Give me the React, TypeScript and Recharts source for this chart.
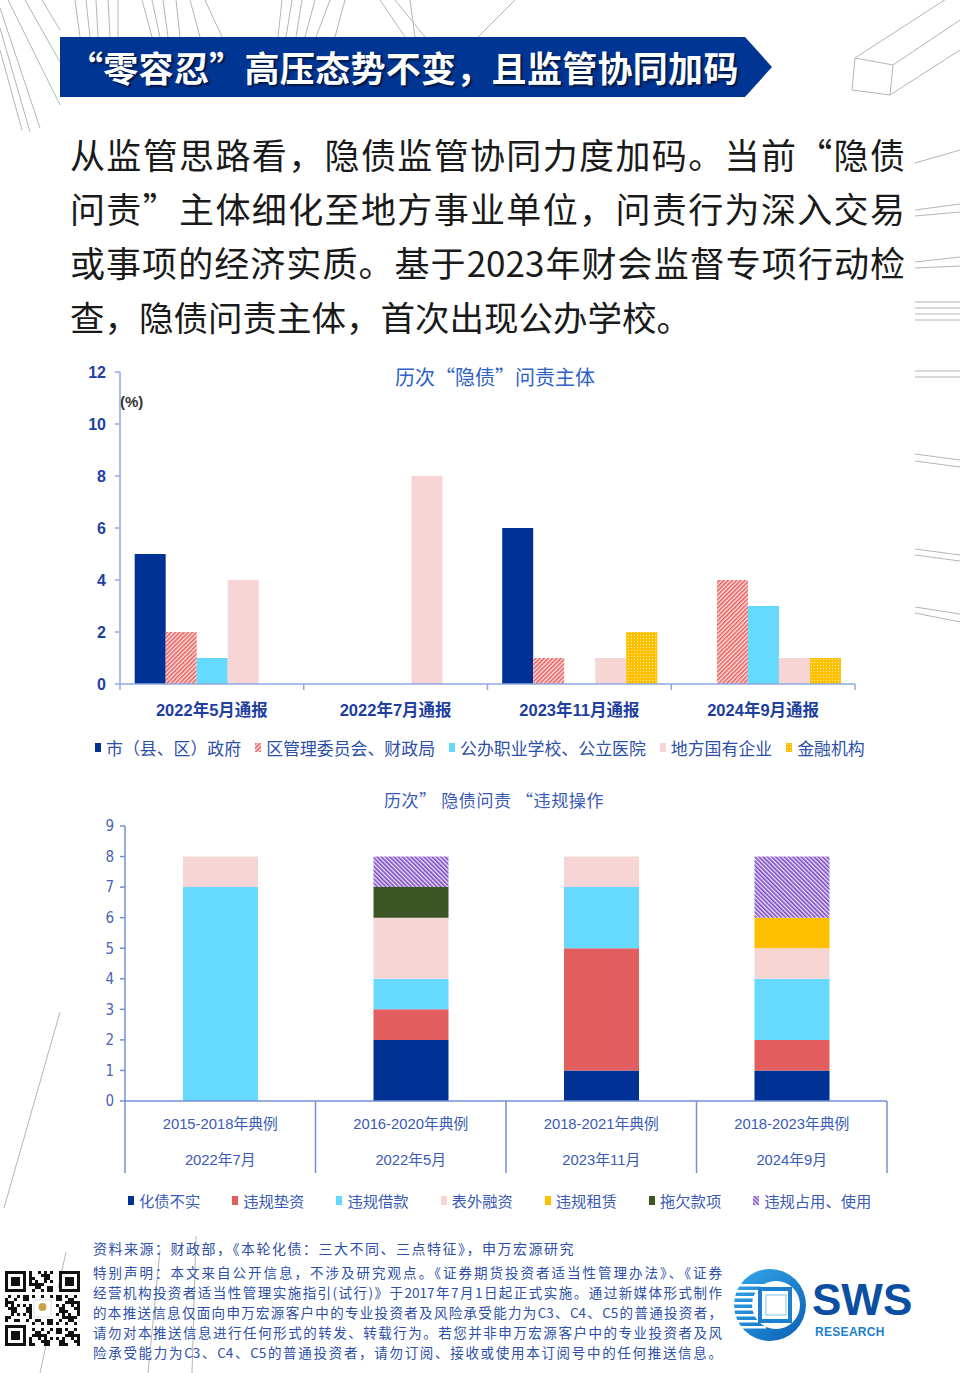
import React from 'react'
import { BarChart, Bar, XAxis, YAxis } from 'recharts'

// chart 1: 历次"隐债"问责主体
const reportCategories = ['2022年5月通报', '2022年7月通报', '2023年11月通报', '2024年9月通报']
const subjectNames = ['市（县、区）政府', '区管理委员会、财政局', '公办职业学校、公立医院', '地方国有企业', '金融机构']
const cityGov = [5, 0, 6, 0]
const districtCommittee = [2, 0, 1, 4]
const publicSchools = [1, 0, 0, 3]
const localSoe = [4, 8, 1, 1]
const financialInst = [0, 0, 2, 1]
const subjectTicks = [0, 2, 4, 6, 8, 10, 12]

// chart 2: 历次隐债问责"违规操作"
const caseRanges = ['2015-2018年典例', '2016-2020年典例', '2018-2021年典例', '2018-2023年典例']
const caseDates = ['2022年7月', '2022年5月', '2023年11月', '2024年9月']
const opNames = ['化债不实', '违规垫资', '违规借款', '表外融资', '违规租赁', '拖欠款项', '违规占用、使用']
const falseResolution = [0, 2, 1, 1]
const illegalAdvance = [0, 1, 4, 1]
const illegalBorrowing = [7, 1, 2, 2]
const offBalance = [1, 2, 1, 1]
const illegalLeasing = [0, 0, 0, 1]
const arrears = [0, 1, 0, 0]
const misappropriation = [0, 1, 0, 2]
const opTicks = [0, 1, 2, 3, 4, 5, 6, 7, 8, 9]

const NAVY = '#003194'
const RED = '#e35f5f'
const CYAN = '#66d9ff'
const PINK = '#f8d5d5'
const GOLD = '#ffc000'
const GREEN = '#3b5524'
const AXIS1 = '#8fa8e0'
const AXIS2 = '#7090d8'

const subjectFills = [NAVY, 'url(#redHatch)', CYAN, PINK, 'url(#goldDots)']
const subjectSeries = [cityGov, districtCommittee, publicSchools, localSoe, financialInst]
const opFills = [NAVY, RED, CYAN, PINK, GOLD, GREEN, 'url(#purpleHatch)']
const opSeries = [falseResolution, illegalAdvance, illegalBorrowing, offBalance, illegalLeasing, arrears, misappropriation]

const subjectData = reportCategories.map((name, i) => {
  const row: any = { name }
  subjectSeries.forEach((s, k) => (row['s' + k] = s[i]))
  return row
})
const opData = caseRanges.map((name, i) => {
  const row: any = { name, date: caseDates[i] }
  opSeries.forEach((s, k) => (row['o' + k] = s[i]))
  return row
})

const SANS = 'Arial, "Liberation Sans", "Noto Sans CJK SC", sans-serif'
const NARROW = '"Liberation Sans Narrow", "DejaVu Sans Condensed", "Noto Sans CJK SC", sans-serif'

const PLOT1_W = 960 - 120 - 105
const BAND1 = PLOT1_W / reportCategories.length
const PLOT2_W = 960 - 125 - 73
const BAND2 = PLOT2_W / caseRanges.length

function SubjectTick(props: any) {
  const { x, y, payload, index } = props
  const last = index === reportCategories.length - 1
  return (
    <g>
      <line x1={x - BAND1 / 2} y1={y} x2={x - BAND1 / 2} y2={y + 6} stroke={AXIS1} strokeWidth={1.5} />
      {last && <line x1={x + BAND1 / 2} y1={y} x2={x + BAND1 / 2} y2={y + 6} stroke={AXIS1} strokeWidth={1.5} />}
      <text x={x} y={y + 32} textAnchor="middle" fill="#1f3f9f" fontSize={16.5} fontWeight={700} fontFamily={SANS}>
        {payload.value}
      </text>
    </g>
  )
}

function CaseTick(props: any) {
  const { x, y, payload, index } = props
  const last = index === caseRanges.length - 1
  return (
    <g>
      <line x1={x - BAND2 / 2} y1={y} x2={x - BAND2 / 2} y2={y + 72} stroke={AXIS2} strokeWidth={1.5} />
      {last && <line x1={x + BAND2 / 2} y1={y} x2={x + BAND2 / 2} y2={y + 72} stroke={AXIS2} strokeWidth={1.5} />}
      <text x={x} y={y + 28} textAnchor="middle" fill="#3a5bb5" fontSize={14.8} fontFamily={SANS}>
        {payload.value}
      </text>
      <text x={x} y={y + 64} textAnchor="middle" fill="#3a5bb5" fontSize={14.8} fontFamily={SANS}>
        {caseDates[index]}
      </text>
    </g>
  )
}

function QrCode() {
  const cells = []
  const n = 25
  for (let r = 0; r < n; r++) {
    for (let c = 0; c < n; c++) {
      const inF = (rr: number, cc: number) => rr >= 0 && rr < 7 && cc >= 0 && cc < 7
      let dark = false
      const fr = r < 8 ? r : r - 18
      const fc = c < 8 ? c : c - 18
      const finder = (r < 8 && c < 8) || (r < 8 && c >= 17) || (r >= 17 && c < 8)
      if (finder) {
        if (inF(fr, fc)) dark = fr === 0 || fr === 6 || fc === 0 || fc === 6 || (fr >= 2 && fr <= 4 && fc >= 2 && fc <= 4)
      } else {
        dark = (r * 31 + c * 17 + r * c * 7) % 11 < 5
      }
      if (r >= 9 && r <= 15 && c >= 9 && c <= 15) dark = false
      if (dark) cells.push(<rect key={r + '-' + c} x={c * 3} y={r * 3} width={3} height={3} fill="#111" />)
    }
  }
  return (
    <svg width={75} height={75} style={{ position: 'absolute', left: 5, top: 1271 }}>
      {cells}
      <rect x={29} y={29} width={17} height={17} fill="#fff" stroke="#ddd" />
      <circle cx={37.5} cy={36} r={4} fill="#c9a24a" />
    </svg>
  )
}

function Legend({ names, fills, left, top, gap, fontSize, color, family }: any) {
  return (
    <div style={{ position: 'absolute', left, top, display: 'flex', gap, alignItems: 'center', fontSize, color, fontFamily: family, whiteSpace: 'nowrap' }}>
      {names.map((n: string, i: number) => (
        <div key={n} style={{ display: 'flex', alignItems: 'center' }}>
          <svg width={6} height={9} style={{ marginRight: 5 }}>
            <rect width={6} height={9} fill={fills[i]} />
          </svg>
          {n}
        </div>
      ))}
    </div>
  )
}

const bgLines: [number, number, number, number][] = [
  [0, 8, 40, 128], [0, 28, 30, 132], [0, 50, 22, 130], [8, 0, 60, 105], [25, 0, 60, 62], [42, 0, 60, 30],
  [75, 0, 80, 37], [86, 0, 90, 37], [96, 0, 98, 37], [108, 0, 110, 37], [118, 0, 118, 37],
  [142, 0, 152, 37], [152, 0, 160, 37], [163, 0, 168, 37], [176, 0, 180, 37], [190, 0, 200, 37], [205, 0, 222, 37],
  [282, 0, 278, 37], [292, 0, 286, 37], [302, 0, 296, 37], [315, 0, 305, 37], [330, 0, 316, 37], [345, 0, 335, 37],
  [380, 0, 405, 37], [395, 0, 425, 37], [410, 0, 415, 37], [515, 0, 478, 37],
  [855, 58, 960, -10], [893, 65, 960, 20], [890, 95, 960, 50], [852, 90, 855, 58], [855, 58, 893, 65], [893, 65, 890, 95], [890, 95, 852, 90],
  [915, 163, 960, 150], [915, 210, 960, 204], [915, 216, 960, 212], [915, 262, 960, 257], [915, 268, 960, 266],
  [915, 302, 960, 302], [915, 308, 960, 308], [915, 314, 960, 314], [915, 320, 960, 320],
  [915, 371, 960, 371], [915, 377, 960, 377], [915, 454, 960, 460], [915, 461, 960, 467],
  [915, 549, 960, 555], [915, 555, 960, 561], [915, 607, 960, 614], [915, 613, 960, 622],
  [60, 1012, 4, 1208], [66, 1252, 58, 1288], [46, 1345, 40, 1373], [160, 1250, 148, 1373], [196, 1236, 192, 1373],
]

export default function App() {
  const para = [
    '从监管思路看，隐债监管协同力度加码。当前“隐债',
    '问责”主体细化至地方事业单位，问责行为深入交易',
    '或事项的经济实质。基于2023年财会监督专项行动检',
    '查，隐债问责主体，首次出现公办学校。',
  ]
  const disclaimer = [
    '特别声明：本文来自公开信息，不涉及研究观点。《证券期货投资者适当性管理办法》、《证券',
    '经营机构投资者适当性管理实施指引(试行)》于2017年7月1日起正式实施。通过新媒体形式制作',
    '的本推送信息仅面向申万宏源客户中的专业投资者及风险承受能力为C3、C4、C5的普通投资者，',
    '请勿对本推送信息进行任何形式的转发、转载行为。若您并非申万宏源客户中的专业投资者及风',
    '险承受能力为C3、C4、C5的普通投资者，请勿订阅、接收或使用本订阅号中的任何推送信息。',
  ]
  return (
    <div style={{ position: 'absolute', left: 0, top: 0, width: 960, height: 1373, background: '#fff', overflow: 'hidden', fontFamily: '"Noto Sans CJK SC", sans-serif' }}>
      <svg width={0} height={0} style={{ position: 'absolute' }}>
        <defs>
          <pattern id="redHatch" width="3" height="3" patternUnits="userSpaceOnUse" patternTransform="rotate(45)">
            <rect width="3" height="3" fill="#fde4e4" />
            <rect width="1.6" height="3" fill="#e8605f" />
          </pattern>
          <pattern id="goldDots" width="3" height="3" patternUnits="userSpaceOnUse">
            <rect width="3" height="3" fill={GOLD} />
            <rect x="1" y="1" width="1" height="1" fill="#fff0b0" />
          </pattern>
          <pattern id="purpleHatch" width="3" height="3" patternUnits="userSpaceOnUse" patternTransform="rotate(-45)">
            <rect width="3" height="3" fill="#ece2f8" />
            <rect width="1.6" height="3" fill="#7a48c0" />
          </pattern>
          <linearGradient id="globe" x1="0" y1="0" x2="1" y2="1">
            <stop offset="0" stopColor="#35a9ec" />
            <stop offset="1" stopColor="#0a5fb4" />
          </linearGradient>
        </defs>
      </svg>

      {/* background lines */}
      <svg width={960} height={1373} style={{ position: 'absolute', left: 0, top: 0 }}>
        {bgLines.map((l, i) => (
          <line key={i} x1={l[0]} y1={l[1]} x2={l[2]} y2={l[3]} stroke="#b5b5b5" strokeWidth={1} />
        ))}
      </svg>

      {/* banner */}
      <svg width={960} height={110} style={{ position: 'absolute', left: 0, top: 0 }}>
        <polygon points="60,37 745,37 772,67 745,97 60,97" fill="#003594" />
      </svg>
      <div style={{ position: 'absolute', left: 68, top: 37, height: 60, lineHeight: '60px', color: '#fff', fontSize: 35, fontWeight: 700, letterSpacing: 0.3, textShadow: '2px 2px 2px rgba(0,0,0,0.55)', whiteSpace: 'nowrap' }}>
        “零容忍”高压态势不变，且监管协同加码
      </div>

      {/* paragraph */}
      <div style={{ position: 'absolute', left: 70, top: 127, width: 835, fontSize: 35, lineHeight: '54px', color: '#1a1a1a' }}>
        {para.map((p, i) => (
          <div key={i} style={{ textAlignLast: i < para.length - 1 ? 'justify' : 'left', whiteSpace: 'nowrap', fontSize: i < para.length - 1 ? 35 : 34.5 }}>
            {p}
          </div>
        ))}
      </div>

      {/* chart 1 */}
      <div style={{ position: 'absolute', left: 395, top: 363, fontSize: 20, color: '#2e62c6', whiteSpace: 'nowrap', lineHeight: '28px' }}>
        历次“隐债”问责主体
      </div>
      <div style={{ position: 'absolute', left: 120, top: 392, fontSize: 15, fontWeight: 700, color: '#333', lineHeight: '20px', fontFamily: SANS }}>(%)</div>
      <div style={{ position: 'absolute', left: 0, top: 340 }}>
        <BarChart width={960} height={390} data={subjectData} margin={{ top: 32, right: 105, left: 0, bottom: 0 }} barCategoryGap="8%" barGap={0}>
          <XAxis dataKey="name" height={46} tickSize={0} tickMargin={0} tickLine={false} axisLine={{ stroke: AXIS1, strokeWidth: 1.5 }} tick={<SubjectTick />} interval={0} />
          <YAxis width={120} domain={[0, 12]} ticks={subjectTicks} interval={0} tickSize={5} tickMargin={9}
            axisLine={{ stroke: AXIS1, strokeWidth: 1.5 }} tickLine={{ stroke: AXIS1, strokeWidth: 1.5 }}
            tick={{ fill: '#1f3f9f', fontSize: 16, fontWeight: 700, fontFamily: SANS }} />
          {subjectNames.map((n, k) => (
            <Bar key={n} dataKey={'s' + k} name={n} fill={subjectFills[k]} isAnimationActive={false} />
          ))}
        </BarChart>
      </div>
      <Legend names={subjectNames} fills={subjectFills} left={95} top={735} gap={14} fontSize={16.9} color="#2d4fa8" family='"Noto Sans CJK SC", sans-serif' />

      {/* chart 2 */}
      <div style={{ position: 'absolute', left: 384, top: 787, fontSize: 17, color: '#3a5bb5', whiteSpace: 'nowrap', lineHeight: '26px', letterSpacing: 0.6 }}>
        历次” 隐债问责 “违规操作
      </div>
      <div style={{ position: 'absolute', left: 0, top: 816 }}>
        <BarChart width={960} height={360} data={opData} margin={{ top: 10, right: 73, left: 0, bottom: 0 }} barSize={75}>
          <XAxis dataKey="name" height={75} tickSize={0} tickMargin={0} tickLine={false} axisLine={{ stroke: AXIS2, strokeWidth: 1.5 }} tick={<CaseTick />} interval={0} />
          <YAxis width={125} domain={[0, 9]} ticks={opTicks} interval={0} tickSize={5} tickMargin={6}
            axisLine={{ stroke: AXIS2, strokeWidth: 1.5 }} tickLine={{ stroke: AXIS2, strokeWidth: 1.5 }}
            tick={{ fill: '#4a64b0', fontSize: 15, fontFamily: NARROW }} />
          {opNames.map((n, k) => (
            <Bar key={n} dataKey={'o' + k} name={n} stackId="ops" fill={opFills[k]} isAnimationActive={false} />
          ))}
        </BarChart>
      </div>
      <Legend names={opNames} fills={opFills} left={128} top={1189} gap={32} fontSize={15.3} color="#3a5bb5" family='"Noto Sans CJK SC", sans-serif' />

      {/* footer */}
      <div style={{ position: 'absolute', left: 93, top: 1238, fontSize: 14, color: '#2d4fa8', lineHeight: '20px', letterSpacing: 1.5, whiteSpace: 'nowrap' }}>
        资料来源：财政部，《本轮化债：三大不同、三点特征》，申万宏源研究
      </div>
      <div style={{ position: 'absolute', left: 93, top: 1262, width: 629, fontSize: 13.5, color: '#2d4fa8', lineHeight: '20px' }}>
        {disclaimer.map((d, i) => (
          <div key={i} style={{ textAlignLast: 'justify', whiteSpace: 'nowrap' }}>{d}</div>
        ))}
      </div>
      <QrCode />

      {/* SWS logo */}
      <svg width={230} height={90} style={{ position: 'absolute', left: 730, top: 1262 }}>
        <circle cx={40} cy={43} r={36} fill="url(#globe)" />
        <circle cx={46} cy={43} r={24} fill="#fff" />
        {[0, 1, 2, 3, 4, 5, 6, 7].map((i) => (
          <rect key={i} x={2} y={22 + i * 6} width={34} height={2.5} fill="#fff" />
        ))}
        <rect x={30} y={27} width={30} height={32} fill="#fff" stroke="#1d7fd0" strokeWidth={4} />
        <rect x={36} y={33} width={20} height={20} fill="#fff" stroke="#7cc4ef" strokeWidth={1} />
        <text x={82} y={53} fontSize={44} fontWeight={900} fill="#0b4ea2" fontFamily={SANS} letterSpacing={0}>SWS</text>
        <text x={85} y={74} fontSize={12} fontWeight={700} fill="#1a7fd0" fontFamily={SANS} letterSpacing={0.3}>RESEARCH</text>
      </svg>
    </div>
  )
}
